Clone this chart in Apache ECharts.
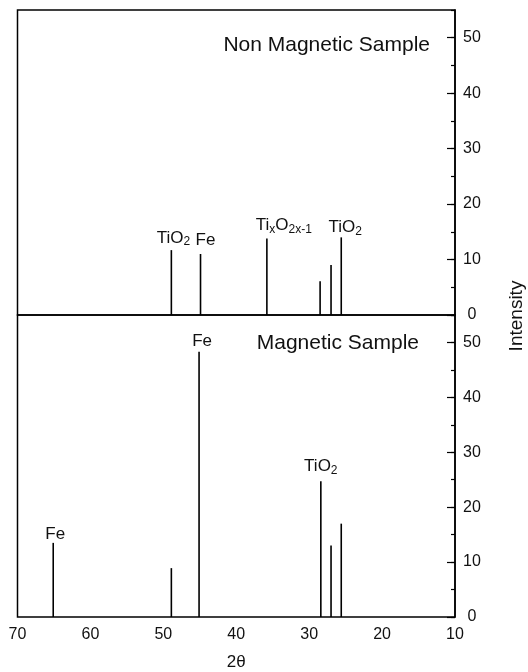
<!DOCTYPE html>
<html><head><meta charset="utf-8">
<script src="https://cdn.jsdelivr.net/npm/echarts@6/dist/echarts.min.js"></script>
<style>html,body{margin:0;padding:0;background:#fff}#c{width:528px;height:672px}</style>
</head><body><div id="c"></div>
<script>
// ---- data ----
const xTickLabels = [70, 60, 50, 40, 30, 20, 10];
const yTickLabels = [0, 10, 20, 30, 40, 50];
const panelTitles = ['Non Magnetic Sample', 'Magnetic Sample'];
const axisNames = ['2θ', 'Intensity'];

const nonMagTwoTheta = [48.9, 44.9, 35.8, 28.5, 27.0, 25.6];
const nonMagIntensity = [11.7, 11.0, 13.8, 6.1, 9.0, 14.0];
const nonMagLabels = ['TiO2', 'Fe', 'TixO2x-1', '', '', 'TiO2'];

const magTwoTheta = [65.1, 48.9, 45.1, 28.4, 27.0, 25.6];
const magIntensity = [13.5, 8.9, 48.3, 24.7, 13.0, 17.0];
const magLabels = ['Fe', '', 'Fe', 'TiO2', '', ''];

// ---- presentation ----
const FONT = '"Liberation Sans", Arial, Helvetica, sans-serif';
const richMap = {
  'TiO2': '{n|TiO}{s|2}',
  'Fe': '{n|Fe}',
  'TixO2x-1': '{n|Ti}{s|x}{n|O}{s|2x-1}'
};
const rich = {
  n: { fontSize: 17, lineHeight: 20, fontFamily: FONT, color: '#111' },
  s: { fontSize: 12, lineHeight: 10, verticalAlign: 'bottom', fontFamily: FONT, color: '#111' }
};
const nonMagLabelOffsets = [[2, -2], [5, -4], [17, -3], [0, 0], [0, 0], [4, 0]];
const magLabelOffsets = [[2, 1], [0, 0], [3, 0], [0, -5], [0, 0], [0, 0]];

function buildData(xs, ys, labels, offsets) {
  return xs.map((x, i) => {
    const item = { value: [x, ys[i]] };
    if (labels[i]) {
      item.label = {
        show: true, position: 'top', distance: 0,
        offset: offsets[i],
        formatter: richMap[labels[i]], rich: rich
      };
    }
    return item;
  });
}

const xMin = Math.min(...xTickLabels), xMax = Math.max(...xTickLabels);
const yMax = 55;

function xAxisFor(g, showLabels) {
  return {
    gridIndex: g, type: 'value', min: xMin, max: xMax, interval: 10, inverse: true,
    axisLine: { show: false }, axisTick: { show: false }, splitLine: { show: false },
    axisLabel: { show: showLabels, fontSize: 16, color: '#111', fontFamily: FONT, margin: 10 },
    name: showLabels ? axisNames[0] : '', nameLocation: 'middle', nameGap: 37,
    nameTextStyle: { fontSize: 17, color: '#111', fontFamily: FONT }
  };
}
function yMinorFor(g) {
  return {
    gridIndex: g, type: 'value', position: 'right', min: 0, max: yMax, interval: 5,
    axisLine: { show: false }, splitLine: { show: false }, axisLabel: { show: false },
    axisTick: { show: true, inside: true, length: 4, lineStyle: { color: '#000', width: 1.2 } }
  };
}
function yMajorFor(g) {
  return {
    gridIndex: g, type: 'value', position: 'right', min: 0, max: yMax, interval: 10,
    axisLine: { show: true, lineStyle: { color: '#000', width: 1.5 } },
    splitLine: { show: false },
    axisTick: { show: true, inside: true, length: 8, lineStyle: { color: '#000', width: 1.2 } },
    axisLabel: { show: true, showMaxLabel: false, fontSize: 16, color: '#111', fontFamily: FONT,
      margin: 17, align: 'center',
      formatter: v => (yTickLabels.indexOf(v) >= 0 ? String(v) : '') }
  };
}

const gridBase = { left: 17.5, right: 73, show: true, borderColor: '#000', borderWidth: 1.5, backgroundColor: 'transparent' };

const option = {
  animation: false,
  backgroundColor: '#fff',
  grid: [
    Object.assign({ top: 10, height: 305 }, gridBase),
    Object.assign({ top: 315, height: 304 }, gridBase)
  ],
  xAxis: [xAxisFor(0, false), xAxisFor(1, true)],
  yAxis: [yMinorFor(0), yMajorFor(0), yMinorFor(1), yMajorFor(1)],
  series: [
    { type: 'bar', xAxisIndex: 0, yAxisIndex: 1, barWidth: 1.6, silent: true,
      itemStyle: { color: '#000' },
      data: buildData(nonMagTwoTheta, nonMagIntensity, nonMagLabels, nonMagLabelOffsets) },
    { type: 'bar', xAxisIndex: 1, yAxisIndex: 3, barWidth: 1.6, silent: true,
      itemStyle: { color: '#000' },
      data: buildData(magTwoTheta, magIntensity, magLabels, magLabelOffsets) }
  ],
  graphic: [
    { type: 'text', x: 430, y: 45, style: { text: panelTitles[0], fill: '#111', font: '21px ' + FONT, textAlign: 'right', textVerticalAlign: 'middle' } },
    { type: 'text', x: 419, y: 343, style: { text: panelTitles[1], fill: '#111', font: '21px ' + FONT, textAlign: 'right', textVerticalAlign: 'middle' } },
    { type: 'text', x: 517, y: 316, rotation: Math.PI / 2, style: { text: axisNames[1], fill: '#111', font: '19px ' + FONT, textAlign: 'center', textVerticalAlign: 'middle' } }
  ]
};
const chart = echarts.init(document.getElementById('c'));
chart.setOption(option);
</script>
</body></html>
